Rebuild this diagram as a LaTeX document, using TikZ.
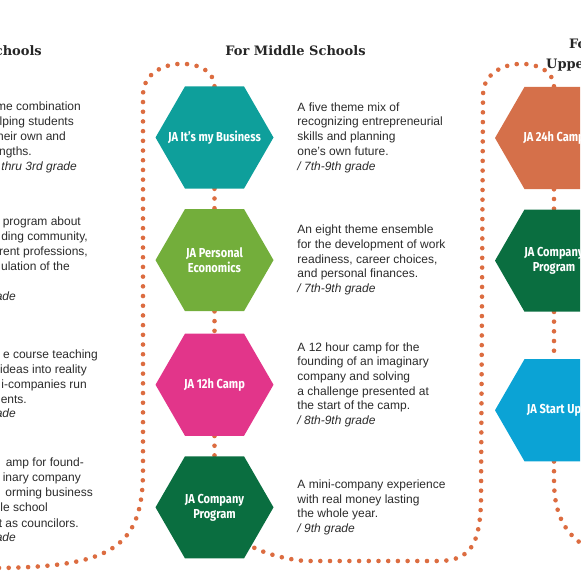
\documentclass[tikz,border=0pt]{standalone}
\usepackage{fontspec}
\setmainfont{Liberation Sans}
\newfontfamily\headfont{DejaVu Serif}
\newfontfamily\hexfont{Fira Sans}[FakeStretch=0.85]
\usetikzlibrary{positioning, shapes.geometric, backgrounds}
\definecolor{jadot}{HTML}{DC6C40}
\definecolor{jateal}{HTML}{0E9F9B}
\definecolor{jalime}{HTML}{73AE3B}
\definecolor{japink}{HTML}{E2358A}
\definecolor{jaforest}{HTML}{0A6E40}
\definecolor{jaclay}{HTML}{D5704A}
\definecolor{jasky}{HTML}{0BA3D5}
\definecolor{jatext}{HTML}{2B2B2B}
\tikzset{
  hexa/.style={
    regular polygon, regular polygon sides=6, minimum size=118pt,
    inner sep=0pt, fill=#1, draw=none
  },
  hexlab/.style={
    text=white, align=center, inner sep=0pt,
    font=\hexfont\bfseries\fontsize{13}{15}\selectfont
  },
  desc/.style={
    align=left, inner sep=0pt, text=jatext,
    font=\fontsize{12}{14.7}\selectfont
  },
  frag/.style={
    anchor=east, inner sep=0pt, text height=9pt, text depth=3pt,
    text=jatext, font=\fontsize{12}{14.7}\selectfont
  },
  head/.style={
    inner sep=0pt, text=black!85,
    font=\headfont\bfseries\fontsize{13}{20}\selectfont
  },
  dotline/.style={
    draw=jadot, line width=4.6pt, line cap=round,
    dash pattern=on 0pt off 9.7pt
  }
}

\begin{document}
\begin{tikzpicture}[x=1pt, y=-1pt]
  \useasboundingbox (0,0) rectangle (580,580);
  \clip (0,0) rectangle (580,580);

  \node[head, anchor=base east] (hleft) at (42,56) {chools};
  \node[head, anchor=base] (hmid) at (295.5,56) {For Middle Schools};
  \node[head, anchor=base west] (hright1) at (569,49) {Fo};
  \node[head, anchor=base west] (hright2) at (546,69) {Uppe};

  \foreach \xe/\yc/\txt in {
    81/108/me combination, 74/123/lping students, 66/138/heir own and,
    32/153/ngths., 77/168/\textit{thru 3rd grade},
    81/222/program about, 88/237/{ding community,}, 88/252/{rent professions,},
    70/267/ulation of the, 16/297/\textit{ade},
    98/355/e course teaching, 87/370/ideas into reality, 87/385/i-companies run,
    27/400/ents., 16/414/\textit{ade},
    84/463/amp for found-, 81/478/inary company, 93/493/orming business,
    48/508/le school, 79/524/t as councilors., 16/538/\textit{ade}} {
    \node[frag] at (\xe,\yc) {\txt};
  }

  \node[hexa=jateal, label={[hexlab]center:JA It’s my Business}] (m1) at (214.5,137.5) {};
  \node[hexa=jalime, below=20pt of m1, label={[hexlab]center:{JA Personal\\Economics}}] (m2) {};
  \node[hexa=japink, below=22pt of m2, label={[hexlab]center:JA 12h Camp}] (m3) {};
  \node[hexa=jaforest, below=20pt of m3, label={[hexlab]center:{JA Company\\Program}}] (m4) {};

  \node[desc, right=23.5pt of m1] (d1) {A five theme mix of\\recognizing entrepreneurial\\skills and planning\\one’s own future.\\\textit{/ 7th-9th grade}};
  \node[desc, right=23.5pt of m2] (d2) {An eight theme ensemble\\for the development of work\\readiness, career choices,\\and personal finances.\\\textit{/ 7th-9th grade}};
  \node[desc, right=23.5pt of m3] (d3) {A 12 hour camp for the\\founding of an imaginary\\company and solving\\a challenge presented at\\the start of the camp.\\\textit{/ 8th-9th grade}};
  \node[desc, right=23.5pt of m4] (d4) {A mini-company experience\\with real money lasting\\the whole year.\\\textit{/ 9th grade}};

  \node[hexa=jaclay, label={[hexlab]center:JA 24h Camp}] (r1) at (554,138) {};
  \node[hexa=jaforest, below=20pt of r1, label={[hexlab]center:{JA Company\\Program}}] (r2) {};
  \node[hexa=jasky, below=47pt of r2, label={[hexlab]center:JA Start Up}] (r3) {};

  \begin{scope}[on background layer]
    \draw[dotline] (m1.north) .. controls (214.5,55) and (143,55) .. (143,95)
      -- (143,470) .. controls (143,548) and (112,567) .. (-5,568);
    \draw[dotline] (m1.south) -- (m2.north);
    \draw[dotline] (m2.south) -- (m3.north);
    \draw[dotline] (m3.south) -- (m4.north);
    \draw[dotline] (m4.center) .. controls (225,535) and (255,556) .. (305,561)
      -- (440,561) .. controls (470,560) and (480,545) .. (481,500)
      -- (483,95) .. controls (483,55) and (554,55) .. (r1.north);
    \draw[dotline] (r1.south) -- (r2.north);
    \draw[dotline] (r2.south) -- (r3.north);
    \draw[dotline] (r3.south) -- (554,480) .. controls (554,510) and (562,535) .. (592,550);
  \end{scope}
\end{tikzpicture}
\end{document}
